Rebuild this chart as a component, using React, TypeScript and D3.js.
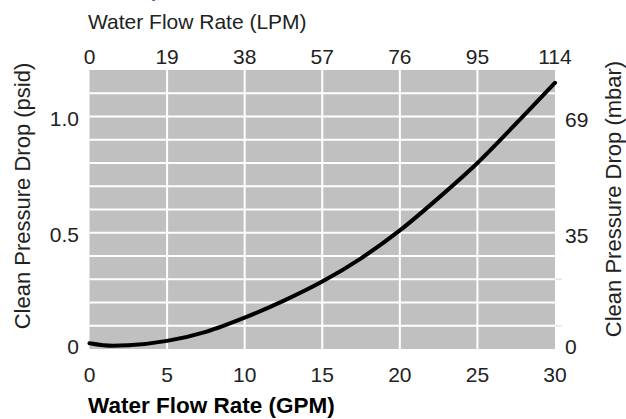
import React from 'react';
import * as d3 from 'd3';

// flow rate (GPM) vs clean pressure drop (psid)
const flowGpm = [0, 1.5, 2.5, 5, 7.5, 10, 12.5, 15, 17.5, 20, 22.5, 25, 27.5, 30];
const dropPsid = [0.025, 0.014, 0.016, 0.035, 0.074, 0.135, 0.207, 0.29, 0.39, 0.51, 0.65, 0.8, 0.97, 1.145];

const gpmTicks = [0, 5, 10, 15, 20, 25, 30];
const lpmLabels = ['0', '19', '38', '57', '76', '95', '114'];
const psidTicks = [0, 0.5, 1.0];
const psidLabels = ['0', '0.5', '1.0'];
const mbarLabels = ['0', '35', '69'];
const gridPsid = [0.1, 0.2, 0.3, 0.4, 0.5, 0.6, 0.7, 0.8, 0.9, 1.0, 1.1];
const stubPsid = [0.1, 0.3];

const W = 626;
const H = 419;
const FONT = '"Liberation Sans", Arial, sans-serif';

export default function App() {
  const x = d3.scaleLinear().domain([0, 30]).range([89.5, 555]);
  const y = d3.scaleLinear().domain([0, 1.2]).range([349, 70]);

  const line = d3.line<number>()
    .x((d, i) => x(flowGpm[i]))
    .y((d) => y(d))
    .curve(d3.curveMonotoneX);

  const textColor = '#222';

  return (
    <svg width={W} height={H} style={{ position: 'absolute', left: 0, top: 0 }} fontFamily={FONT}>
      <rect width={W} height={H} fill="#fff" />

      {/* cut-off heading above the chart */}
      <text x={151} y={-3} fill="#2f5fb3" fontSize={18} fontWeight="bold">p</text>

      {/* plot background */}
      <rect x={x(0)} y={y(1.2)} width={x(30) - x(0)} height={y(0) - y(1.2)} fill="#c0c0c0" />

      {/* grid */}
      {gridPsid.map((v) => (
        <line key={'h' + v} x1={x(0)} x2={x(30)} y1={y(v)} y2={y(v)} stroke="#fff" strokeWidth={2} />
      ))}
      {gpmTicks.slice(1, -1).map((v) => (
        <line key={'v' + v} x1={x(v)} x2={x(v)} y1={y(0)} y2={y(1.2)} stroke="#fff" strokeWidth={2} />
      ))}
      {stubPsid.map((v) => (
        <line key={'s' + v} x1={x(30)} x2={x(30) + 7} y1={y(v)} y2={y(v)} stroke="#e4e4e4" strokeWidth={1.5} />
      ))}

      {/* curve */}
      <path d={line(dropPsid) || ''} fill="none" stroke="#000" strokeWidth={4} strokeLinecap="round" />

      {/* bottom axis */}
      {gpmTicks.map((v) => (
        <text key={'b' + v} x={x(v)} y={382} textAnchor="middle" fontSize={21} fill={textColor}>{v}</text>
      ))}
      <text x={88} y={413} fontSize={22.5} fontWeight="bold" fill="#000">Water Flow Rate (GPM)</text>

      {/* top axis */}
      {gpmTicks.map((v, i) => (
        <text key={'t' + v} x={x(v)} y={64} textAnchor="middle" fontSize={21} fill={textColor}>{lpmLabels[i]}</text>
      ))}
      <text x={88} y={29} fontSize={21} fill={textColor}>Water Flow Rate (LPM)</text>

      {/* left axis */}
      {psidTicks.map((v, i) => (
        <text key={'l' + v} x={79} y={Math.min(y(v) + 9.5, 353.5)} textAnchor="end" fontSize={21} fill={textColor}>{psidLabels[i]}</text>
      ))}
      <text transform="translate(30,196) rotate(-90)" textAnchor="middle" fontSize={22} fill={textColor}>
        Clean Pressure Drop (psid)
      </text>

      {/* right axis */}
      {psidTicks.map((v, i) => (
        <text key={'r' + v} x={565} y={Math.min(y(v) + 10.5, 353.5)} fontSize={21} fill={textColor}>{mbarLabels[i]}</text>
      ))}
      <text transform="translate(621,199) rotate(-90)" textAnchor="middle" fontSize={22} fill={textColor}>
        Clean Pressure Drop (mbar)
      </text>
    </svg>
  );
}
